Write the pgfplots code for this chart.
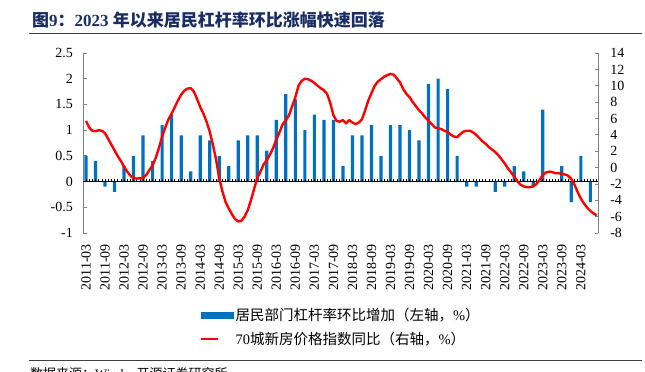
\documentclass[border=0pt]{standalone}
\usepackage{fontspec}
\usepackage{pgfplots}
\usepackage{pgfplotstable}
\pgfplotsset{compat=1.18}
\setmainfont{Liberation Serif}
\newfontfamily\cjk{Noto Sans CJK SC}
\definecolor{barblue}{RGB}{0,112,192}
\definecolor{titleblue}{RGB}{25,45,100}
\definecolor{axgray}{RGB}{128,128,128}

\pgfplotstableread{
m v
0 0.5
3 0.4
6 -0.1
9 -0.2
12 0.3
15 0.5
18 0.9
21 0.4
24 1.1
27 1.3
30 0.9
33 0.2
36 0.9
39 0.8
42 0.5
45 0.3
48 0.8
51 0.9
54 0.9
57 0.6
60 1.2
63 1.7
66 1.6
69 1.0
72 1.3
75 1.2
78 1.2
81 0.3
84 0.9
87 0.9
90 1.1
93 0.5
96 1.1
99 1.1
102 1.0
105 0.8
108 1.9
111 2.0
114 1.8
117 0.5
120 -0.1
123 -0.1
126 0.0
129 -0.2
132 -0.1
135 0.3
138 0.2
141 -0.1
144 1.4
147 0.0
150 0.3
153 -0.4
156 0.5
159 -0.4
}\bars

\pgfplotstableread{
m v
0 5.7
1 4.9
2 4.5
3 4.45
4 4.55
5 4.5
6 4.2
7 3.5
8 2.8
9 2.1
10 1.4
11 0.8
12 0.1
13 -0.5
14 -1.0
15 -1.3
16 -1.35
17 -1.3
18 -1.25
19 -0.9
20 -0.3
21 0.3
22 1.2
23 2.4
24 3.8
25 4.9
26 5.9
27 6.6
28 7.4
29 8.2
30 8.9
31 9.4
32 9.65
33 9.7
34 9.3
35 8.4
36 7.4
37 6.6
38 5.6
39 4.4
40 2.8
41 1.0
42 -1.3
43 -2.9
44 -4.2
45 -5.0
46 -5.7
47 -6.3
48 -6.6
49 -6.5
50 -6.0
51 -5.2
52 -4.0
53 -2.6
54 -1.3
55 -0.5
56 0.4
57 0.9
58 1.6
59 2.4
60 3.4
61 4.3
62 5.3
63 5.8
64 6.4
65 7.5
66 8.6
67 10.0
68 10.6
69 10.85
70 10.8
71 10.6
72 10.35
73 10.0
74 9.7
75 9.45
76 9.0
77 7.9
78 6.4
79 5.7
80 5.6
81 5.8
82 5.4
83 5.8
84 5.5
85 5.3
86 5.5
87 5.9
88 7.0
89 8.2
90 9.1
91 10.0
92 10.5
93 10.8
94 11.1
95 11.3
96 11.45
97 11.35
98 10.9
99 10.4
100 9.6
101 9.0
102 8.6
103 8.0
104 7.5
105 7.0
106 6.6
107 6.1
108 5.7
109 5.3
110 4.9
111 4.8
112 4.7
113 4.5
114 4.35
115 4.0
116 3.8
117 3.7
118 4.1
119 4.4
120 4.5
121 4.5
122 4.3
123 4.0
124 3.6
125 3.2
126 2.9
127 2.5
128 2.2
129 1.9
130 1.5
131 1.0
132 0.5
133 -0.1
134 -0.6
135 -1.1
136 -1.7
137 -2.1
138 -2.3
139 -2.4
140 -2.4
141 -2.3
142 -2.0
143 -1.5
144 -0.9
145 -0.6
146 -0.5
147 -0.55
148 -0.7
149 -0.7
150 -0.75
151 -0.85
152 -1.0
153 -1.4
154 -2.1
155 -3.0
156 -3.8
157 -4.4
158 -4.9
159 -5.3
160 -5.6
161 -5.85
}\hpi

% monthly tick marks on the zero line
\pgfplotstableread[row sep=\\]{
m t\\
0 1\\1 1\\2 1\\3 1\\4 1\\5 1\\6 1\\7 1\\8 1\\9 1\\10 1\\11 1\\12 1\\13 1\\14 1\\15 1\\16 1\\17 1\\18 1\\19 1\\
20 1\\21 1\\22 1\\23 1\\24 1\\25 1\\26 1\\27 1\\28 1\\29 1\\30 1\\31 1\\32 1\\33 1\\34 1\\35 1\\36 1\\37 1\\38 1\\39 1\\
40 1\\41 1\\42 1\\43 1\\44 1\\45 1\\46 1\\47 1\\48 1\\49 1\\50 1\\51 1\\52 1\\53 1\\54 1\\55 1\\56 1\\57 1\\58 1\\59 1\\
60 1\\61 1\\62 1\\63 1\\64 1\\65 1\\66 1\\67 1\\68 1\\69 1\\70 1\\71 1\\72 1\\73 1\\74 1\\75 1\\76 1\\77 1\\78 1\\79 1\\
80 1\\81 1\\82 1\\83 1\\84 1\\85 1\\86 1\\87 1\\88 1\\89 1\\90 1\\91 1\\92 1\\93 1\\94 1\\95 1\\96 1\\97 1\\98 1\\99 1\\
100 1\\101 1\\102 1\\103 1\\104 1\\105 1\\106 1\\107 1\\108 1\\109 1\\110 1\\111 1\\112 1\\113 1\\114 1\\115 1\\116 1\\117 1\\118 1\\119 1\\
120 1\\121 1\\122 1\\123 1\\124 1\\125 1\\126 1\\127 1\\128 1\\129 1\\130 1\\131 1\\132 1\\133 1\\134 1\\135 1\\136 1\\137 1\\138 1\\139 1\\
140 1\\141 1\\142 1\\143 1\\144 1\\145 1\\146 1\\147 1\\148 1\\149 1\\150 1\\151 1\\152 1\\153 1\\154 1\\155 1\\156 1\\157 1\\158 1\\159 1\\
160 1\\161 1\\
}\ticks

\begin{document}
\begin{tikzpicture}
\path[use as bounding box] (0bp,0bp) rectangle (645bp,-372bp);
\node[anchor=west, inner sep=0pt, text=titleblue, font=\fontsize{17bp}{18bp}\selectfont\bfseries] at (32bp,-20.5bp) {{\cjk 图}9{\cjk ：}2023 {\cjk 年以来居民杠杆率环比涨幅快速回落}};
\draw[line width=1bp, black!75] (29bp,-33.3bp) -- (642bp,-33.3bp);
\draw[line width=1bp, black!75] (29bp,-360.5bp) -- (642bp,-360.5bp);
\node[anchor=north west, inner sep=0pt, font=\fontsize{13bp}{15bp}\selectfont] at (30bp,-367bp) {{\cjk 数据来源：}Wind{\cjk ，开源证券研究所}};

\pgfplotsset{common/.style={scale only axis, width=515bp, height=180bp,
  at={(83.3bp,-233bp)}, anchor=south west, xmin=-0.85, xmax=161.5,
  tick label style={font=\fontsize{14bp}{16bp}\selectfont, /pgf/number format/assume math mode=true}}}

\begin{axis}[common, ymin=-1, ymax=2.5,
  axis y line*=left, axis x line*=bottom,
  x axis line style={draw=none},
  xtick={0,6,...,156},
  xticklabels={2011-03,2011-09,2012-03,2012-09,2013-03,2013-09,2014-03,2014-09,2015-03,2015-09,2016-03,2016-09,2017-03,2017-09,2018-03,2018-09,2019-03,2019-09,2020-03,2020-09,2021-03,2021-09,2022-03,2022-09,2023-03,2023-09,2024-03},
  xtick style={draw=none},
  xticklabel style={yshift=-7bp, rotate=90, anchor=east, inner sep=0pt},
  ytick={-1,-0.5,0,0.5,1,1.5,2,2.5},
  y axis line style={draw=axgray, line width=0.8bp},
  ytick style={draw=axgray, line width=0.8bp},
  tick align=inside, major tick length=4bp,
  yticklabel style={xshift=-7bp},
  ybar, bar width=3.2bp]
\addplot[fill=barblue, draw=none] table[x=m, y=v] {\bars};
\end{axis}

% zero line (bottom edge of a thin axis placed at y=0 of the left scale) with monthly ticks
\begin{axis}[scale only axis, width=515bp, height=3bp,
  at={(83.3bp,-181.57bp)}, anchor=south west, xmin=-0.85, xmax=161.5,
  ymin=0, ymax=1,
  axis x line*=bottom, axis y line=none,
  x axis line style={-, black, line width=0.8bp},
  xtick=\empty, ytick=\empty, clip=false]
\addplot[ycomb, black, line width=0.7bp, mark=none] table[x=m, y=t] {\ticks};
\end{axis}

\begin{axis}[common, ymin=-8, ymax=14,
  axis y line*=right, axis x line=none,
  ytick={-8,-6,...,14},
  y axis line style={draw=axgray, line width=0.8bp},
  ytick style={draw=axgray, line width=0.8bp},
  tick align=inside, major tick length=3.5bp,
  yticklabel style={xshift=8.5bp},
  legend cell align=left,
  legend style={at={(0.2267,-0.405)}, anchor=north west, draw=none, fill=none,
    inner sep=0pt, row sep=6bp, font=\fontsize{14.5bp}{16bp}\selectfont}]
\addlegendimage{legend image code/.code={\fill[barblue] (0bp,-3bp) rectangle (32bp,3bp);}}
\addlegendentry{{\cjk 居民部门杠杆率环比增加（左轴，}\%{\cjk ）}}
\addplot[red, line width=2.4bp, line join=round] table[x=m, y=v] {\hpi};
\addlegendentry{70{\cjk 城新房价格指数同比（右轴，}\%{\cjk ）}}
\end{axis}
\end{tikzpicture}
\end{document}
